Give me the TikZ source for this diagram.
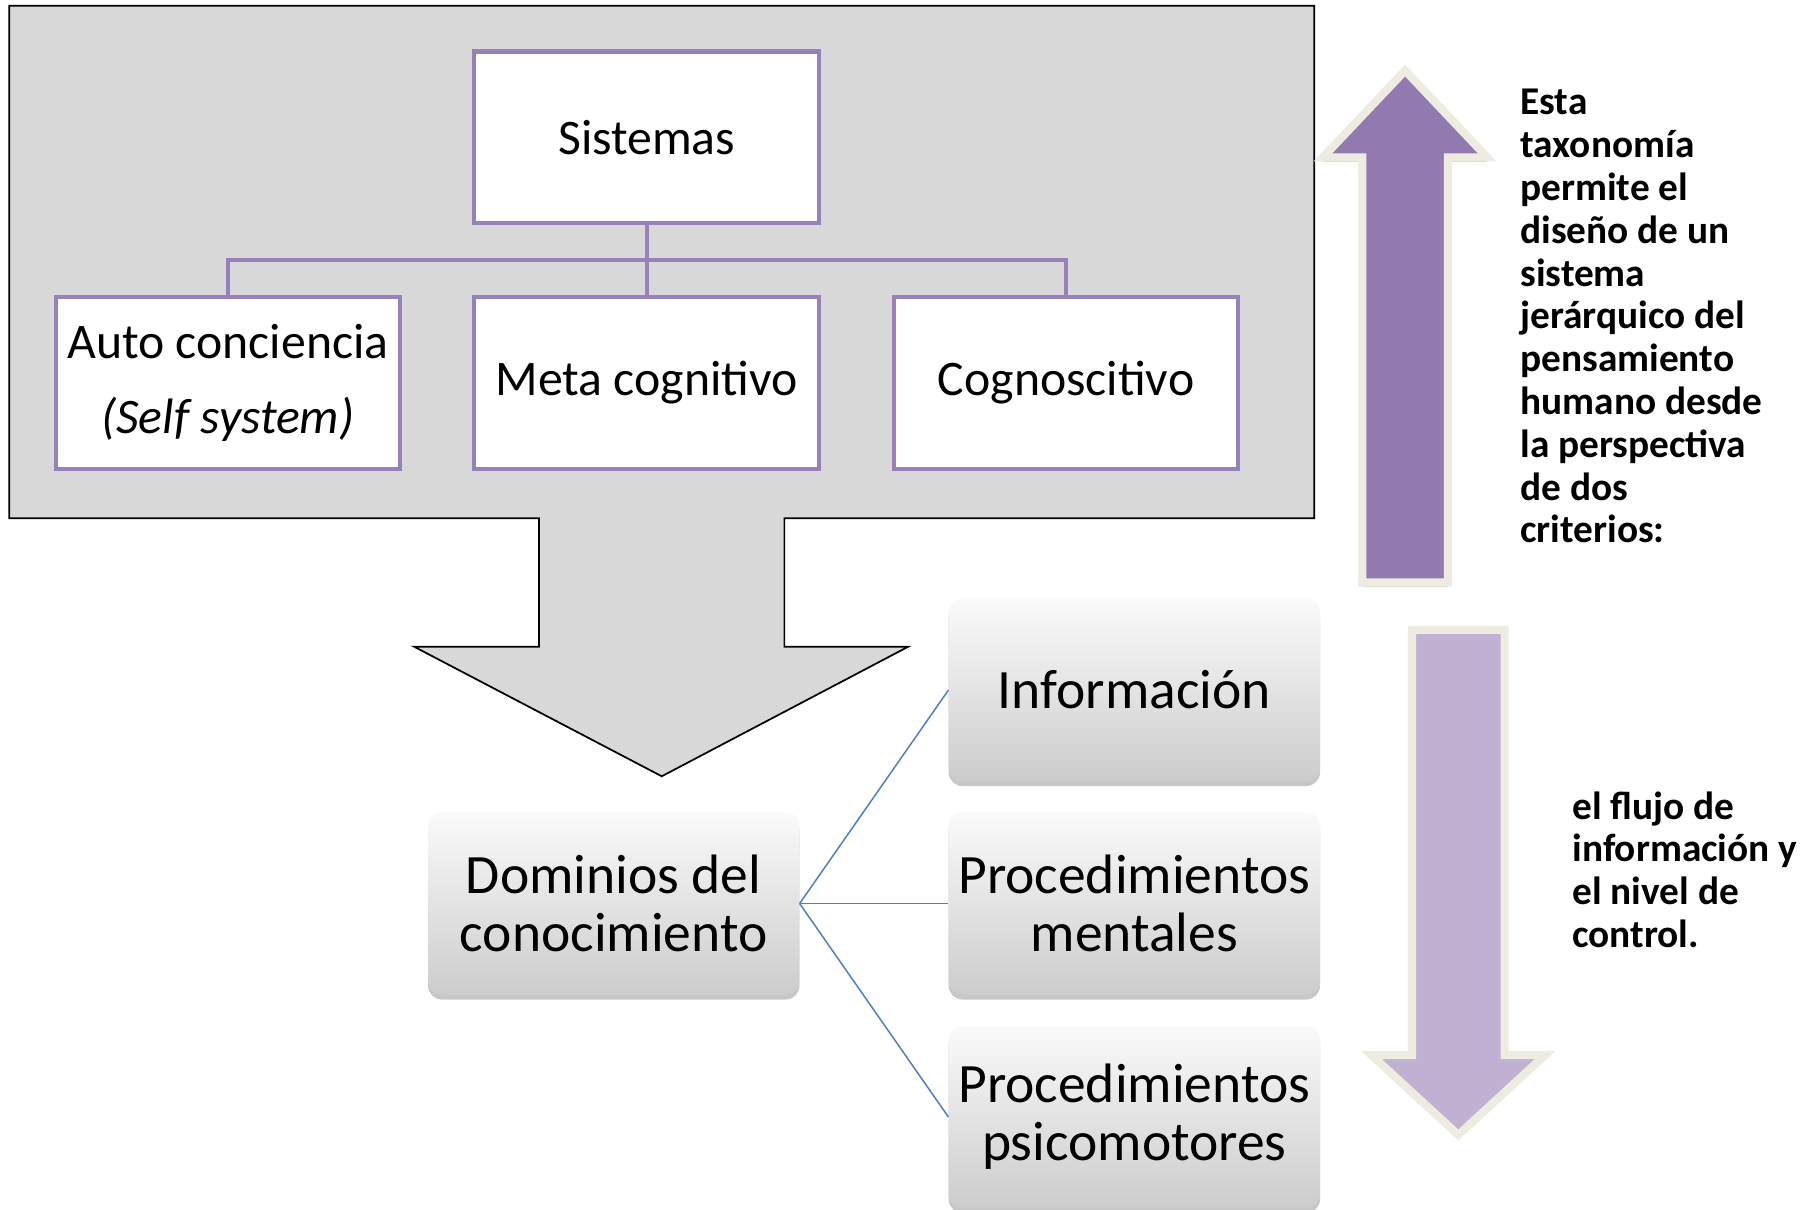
\documentclass[tikz,border=0pt]{standalone}
\usepackage{fontspec}
\setmainfont{Carlito}
\usetikzlibrary{shadows}
\definecolor{grayfill}{RGB}{216,216,216}
\definecolor{purpleb}{RGB}{152,128,186}
\definecolor{uparrow}{RGB}{146,121,175}
\definecolor{downarrow}{RGB}{192,177,211}
\definecolor{cream}{RGB}{238,236,225}
\definecolor{blueline}{RGB}{79,129,189}
\definecolor{gtop}{RGB}{250,250,250}
\definecolor{gbot}{RGB}{204,204,204}
\begin{document}
\begin{tikzpicture}[x=1pt,y=-1pt,
  obox/.style={draw=purpleb, line width=3.5pt, fill=white, minimum width=298pt, minimum height=148pt, inner sep=0pt, align=center, font=\fontsize{43}{52}\selectfont},
  gbox/.style={rounded corners=12pt, top color=gtop, bottom color=gbot, minimum width=321pt, minimum height=158pt, inner sep=0pt, align=center, font=\fontsize{48}{50}\selectfont, drop shadow={shadow xshift=0pt, shadow yshift=-4pt, opacity=0.22, fill=black}},
  bigarrow/.style={line width=7pt, draw=cream, line join=miter, drop shadow={shadow xshift=0pt, shadow yshift=-4pt, opacity=0.18, fill=black}},
  side/.style={font=\bfseries\fontsize{34}{37}\selectfont, align=left, inner sep=0pt, anchor=north west},
  link/.style={draw=blueline, line width=1.3pt},
  tree/.style={draw=purpleb, line width=3.5pt}
]
\useasboundingbox (0,0) rectangle (1568,1045.1);
\fill[white] (0,0) rectangle (1568,1045.1);

% container with down arrow
\draw[fill=grayfill, draw=black, line width=1.5pt]
  (8,5) -- (1136,5) -- (1136,448) -- (678,448) -- (678,559) -- (785,559)
  -- (572,671) -- (358,559) -- (466,559) -- (466,448) -- (8,448) -- cycle;

% hierarchy
\node[obox] (sis) at (559,118.5) {Sistemas};
\node[obox, font=\fontsize{43}{65}\selectfont] (auto) at (197,331) {Auto conciencia\\\textit{(Self system)}};
\node[obox] (meta) at (559,331) {Meta cognitivo};
\node[obox] (cog) at (921.5,331) {Cognoscitivo};
\coordinate (bus) at (559,225);
\draw[tree] (sis.south) -- (bus) -- (meta.north);
\draw[tree] (auto.north) |- (bus) -| (cog.north);

% knowledge domains
\node[gbox] (dom) at (530.5,781) {Dominios del\\conocimiento};
\node[gbox] (info) at (980.5,596.5) {Información};
\node[gbox] (pm) at (980.5,781) {Procedimientos\\mentales};
\node[gbox] (pp) at (980.5,965.5) {Procedimientos\\psicomotores};
\draw[link] (dom.east) -- (info.west);
\draw[link] (dom.east) -- (pm.west);
\draw[link] (dom.east) -- (pp.west);

% side arrows
\draw[bigarrow, fill=uparrow] (1177.5,503.5) -- (1177.5,136) -- (1143.5,136) -- (1214.5,61)
  -- (1285.5,136) -- (1251.5,136) -- (1251.5,503.5) -- cycle;
\draw[bigarrow, fill=downarrow] (1220.5,544.5) -- (1300.5,544.5) -- (1300.5,912) -- (1335.5,912)
  -- (1260.5,981) -- (1185.5,912) -- (1220.5,912) -- cycle;

% side texts
\node[side] (t1) at (1314,77) {Esta\\taxonomía\\permite el\\diseño de un\\sistema\\jerárquico del\\pensamiento\\humano desde\\la perspectiva\\de dos\\criterios:};
\node[side] (t2) at (1359,684) {el flujo de\\información y\\el nivel de\\control.};
\end{tikzpicture}
\end{document}
